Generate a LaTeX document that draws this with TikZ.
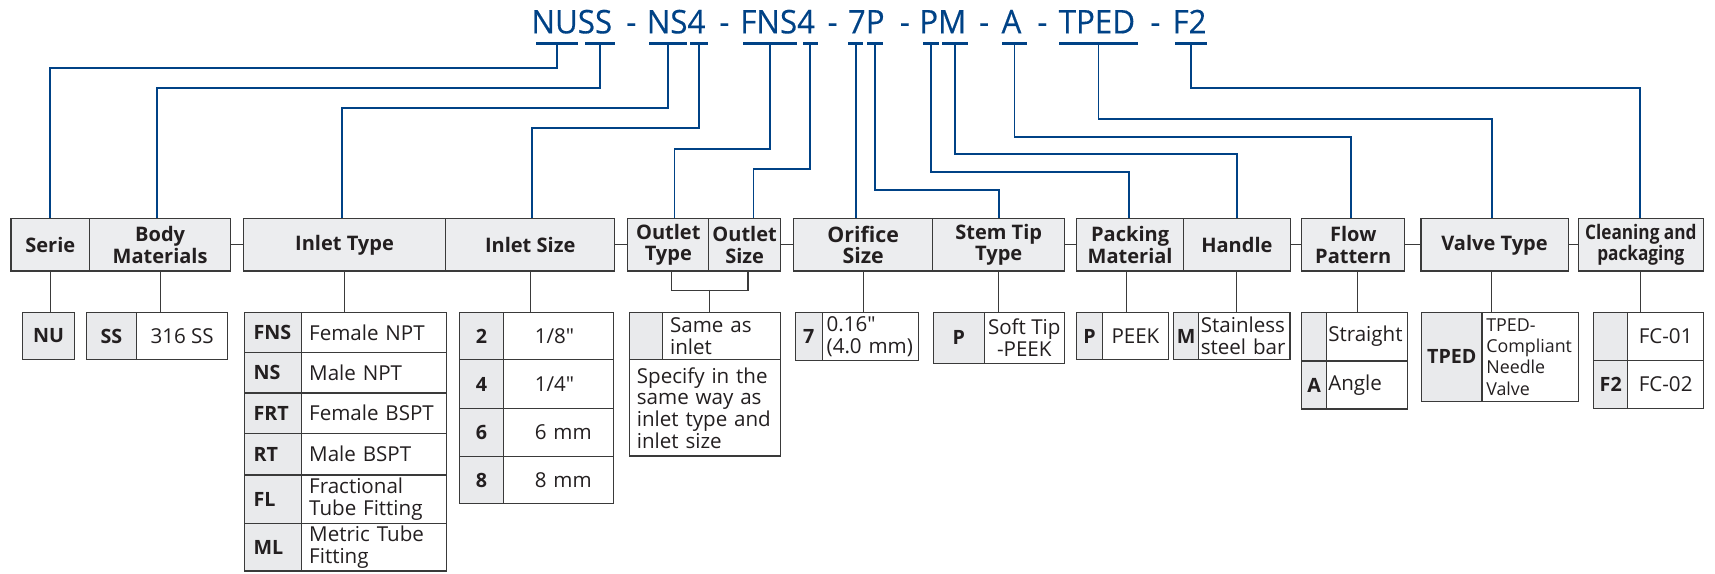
\documentclass[tikz,border=0pt]{standalone}
\usepackage{fontspec}
\setmainfont{Open Sans}
\newfontfamily\titlefont{Open Sans}[FakeStretch=0.96,FakeBold=0.35]
\newfontfamily\condfont{Open Sans}[FakeStretch=0.86]
\newfontfamily\qfont{Open Sans}
\newcommand{\dq}{{\qfont\symbol{34}}}
\definecolor{nblue}{RGB}{0,66,134}
\definecolor{lgray}{RGB}{58,58,58}
\definecolor{hfill}{RGB}{236,237,239}
\definecolor{cfill}{RGB}{233,234,236}
\definecolor{txt}{RGB}{35,31,32}
\begin{document}
\begin{tikzpicture}[x=1pt,y=-1pt,
  bl/.style={draw=nblue, line width=1.7pt},
  gl/.style={draw=lgray, line width=1.1pt},
  bar/.style={fill=nblue, draw=none, minimum height=2.4pt, inner sep=0pt},
  ttl/.style={text=nblue, font=\titlefont\fontsize{29.8}{32}\selectfont, inner sep=0pt, anchor=base west},
  hdr/.style={draw=lgray, line width=1.1pt, fill=hfill, minimum height=47.6pt, inner sep=0pt, align=center, text=txt, font=\bfseries\fontsize{18.3}{19.5}\selectfont},
  codeC/.style={draw=lgray, line width=1.1pt, fill=cfill, inner sep=0pt, align=center, text=txt, font=\bfseries\fontsize{18}{19.5}\selectfont},
  valC/.style={draw=lgray, line width=1.1pt, fill=white, inner sep=0pt, align=center, text=txt, font=\fontsize{18.8}{19.8}\selectfont},
  valL/.style={valC, align=left},
  codeL/.style={codeC, align=left}
]
\useasboundingbox (0,0) rectangle (1568,524);

% ---- title ----
\node[ttl] (tNUSS) at (485.7,30.5) {NUSS};
\node[ttl] (d1) at (572.5,30.5) {-};
\node[ttl] (tNS4) at (591.1,30.5) {NS4};
\node[ttl] (d2) at (657.5,30.5) {-};
\node[ttl] (tFNS4) at (676.6,30.5) {FNS4};
\node[ttl] (d3) at (756.5,30.5) {-};
\node[ttl] (t7P) at (775,30.5) {7P};
\node[ttl] (d4) at (822.5,30.5) {-};
\node[ttl] (tPM) at (840.3,30.5) {PM};
\node[ttl] (d5) at (895,30.5) {-};
\node[ttl] (tA) at (915.5,30.5) {A};
\node[ttl] (d6) at (948.2,30.5) {-};
\node[ttl] (tTPED) at (967.8,30.5) {TPED};
\node[ttl] (d7) at (1051.5,30.5) {-};
\node[ttl] (tF2) at (1071.8,30.5) {F2};

% ---- bars ----
\node[bar, minimum width=38.7pt] (bNU) at (509.35,39.6) {};
\node[bar, minimum width=27.5pt] (bSS) at (548.55,39.6) {};
\node[bar, minimum width=34.2pt] (bNS) at (610.7,39.6) {};
\node[bar, minimum width=16.8pt] (bN4) at (639.2,39.6) {};
\node[bar, minimum width=49.4pt] (bFNS) at (703.7,39.6) {};
\node[bar, minimum width=13.7pt] (bF4) at (740.65,39.6) {};
\node[bar, minimum width=13.7pt] (b7) at (782.45,39.6) {};
\node[bar, minimum width=15.2pt] (bP) at (800,39.6) {};
\node[bar, minimum width=15.3pt] (bPP) at (851.15,39.6) {};
\node[bar, minimum width=24.4pt] (bM) at (873.1,39.6) {};
\node[bar, minimum width=23.5pt] (bA) at (927.55,39.6) {};
\node[bar, minimum width=71.6pt] (bT) at (1004.3,39.6) {};
\node[bar, minimum width=28.9pt] (bF2) at (1088.75,39.6) {};

% ---- header row ----
\node[hdr, minimum width=71.7pt] (serie) at (45.95,223.9) {Serie};
\node[hdr, minimum width=129.2pt] (body) at (146.4,223.9) {Body\\Materials};
\node[hdr, minimum width=185pt] (intype) at (315,223.9) {Inlet Type};
\node[hdr, minimum width=154.5pt] (insize) at (484.75,223.9) {Inlet Size};
\node[hdr, minimum width=74pt] (outtype) at (611,223.9) {Outlet\\Type};
\node[hdr, minimum width=65.6pt] (outsize) at (680.8,223.9) {Outlet\\Size};
\node[hdr, minimum width=126.9pt, font=\bfseries\fontsize{19.5}{20}\selectfont] (orifice) at (789.15,223.9) {Orifice\\Size};
\node[hdr, minimum width=121pt] (stem) at (913.1,223.9) {Stem Tip\\Type};
\node[hdr, minimum width=97.5pt] (packing) at (1033.25,223.9) {Packing\\Material};
\node[hdr, minimum width=97.7pt] (handle) at (1130.85,223.9) {Handle};
\node[hdr, minimum width=94.1pt] (flow) at (1237.25,223.9) {Flow\\Pattern};
\node[hdr, minimum width=134.6pt] (valve) at (1366.4,223.9) {Valve Type};
\node[hdr, minimum width=114.6pt, font=\condfont\bfseries\fontsize{18.3}{19.5}\selectfont] (clean) at (1500.2,223.9) {Cleaning and\\packaging};

% ---- option tables ----
\node[codeC, minimum width=48pt, minimum height=43.5pt] (nu) at (44.3,307.25) {NU};
\node[codeC, minimum width=46pt, minimum height=43.5pt] (ssc) at (101.8,307.25) {SS};
\node[valC, minimum width=83.5pt, minimum height=43.5pt] (ssv) at (166.55,307.25) {316 SS};

\node[codeL, text width=36.1pt, inner xsep=8pt, minimum height=36.9pt] (it1c) at (249.95,303.95) {FNS};
\node[valL, text width=118.8pt, inner xsep=6.7pt, minimum height=36.9pt] (it1v) at (342.1,303.95) {Female NPT};
\node[codeL, text width=36.1pt, inner xsep=8pt, minimum height=36.9pt] (it2c) at (249.95,340.85) {NS};
\node[valL, text width=118.8pt, inner xsep=6.7pt, minimum height=36.9pt] (it2v) at (342.1,340.85) {Male NPT};
\node[codeL, text width=36.1pt, inner xsep=8pt, minimum height=36.8pt] (it3c) at (249.95,377.7) {FRT};
\node[valL, text width=118.8pt, inner xsep=6.7pt, minimum height=36.8pt] (it3v) at (342.1,377.7) {Female BSPT};
\node[codeL, text width=36.1pt, inner xsep=8pt, minimum height=38.1pt] (it4c) at (249.95,415.15) {RT};
\node[valL, text width=118.8pt, inner xsep=6.7pt, minimum height=38.1pt] (it4v) at (342.1,415.15) {Male BSPT};
\node[codeL, text width=36.1pt, inner xsep=8pt, minimum height=44.2pt] (it5c) at (249.95,456.3) {FL};
\node[valL, text width=118.8pt, inner xsep=6.7pt, minimum height=44.2pt] (it5v) at (342.1,456.3) {Fractional\\\mbox{Tube Fitting}};
\node[codeL, text width=36.1pt, inner xsep=8pt, minimum height=43.6pt] (it6c) at (249.95,500.2) {ML};
\node[valL, text width=118.8pt, inner xsep=6.7pt, minimum height=43.6pt] (it6v) at (342.1,500.2) {\mbox{Metric Tube}\\Fitting};

\node[codeC, minimum width=40.6pt, minimum height=43.5pt] (is1c) at (440.3,307.25) {2};
\node[valL, text width=43.6pt, inner xsep=28.4pt, minimum height=43.5pt] (is1v) at (510.8,307.25) {\mbox{1/8\dq}};
\node[codeC, minimum width=40.6pt, minimum height=44.3pt] (is2c) at (440.3,351.15) {4};
\node[valL, text width=43.6pt, inner xsep=28.4pt, minimum height=44.3pt] (is2v) at (510.8,351.15) {\mbox{1/4\dq}};
\node[codeC, minimum width=40.6pt, minimum height=44.2pt] (is3c) at (440.3,395.4) {6};
\node[valL, text width=43.6pt, inner xsep=28.4pt, minimum height=44.2pt] (is3v) at (510.8,395.4) {\mbox{6 mm}};
\node[codeC, minimum width=40.6pt, minimum height=43.2pt] (is4c) at (440.3,439.1) {8};
\node[valL, text width=43.6pt, inner xsep=28.4pt, minimum height=43.2pt] (is4v) at (510.8,439.1) {\mbox{8 mm}};

\node[codeC, minimum width=30.5pt, minimum height=43.5pt] (oc) at (590.45,307.25) {};
\node[valL, text width=93.9pt, inner xsep=7pt, minimum height=43.5pt] (ov) at (659.65,307.25) {Same as\\inlet};
\node[valL, text width=124.2pt, inner xsep=7.1pt, minimum height=87.9pt] (ospec) at (644.4,372.95) {\mbox{Specify in the}\\\mbox{same way as}\\\mbox{inlet type and}\\\mbox{inlet size}};

\node[codeC, minimum width=24.7pt, minimum height=44.2pt] (orc) at (739.45,307.6) {7};
\node[valL, text width=79.9pt, inner xsep=4pt, minimum height=44.2pt] (orv) at (795.75,307.6) {0.16\dq\\\mbox{(4.0 mm)}};

\node[codeC, minimum width=46.7pt, minimum height=46.7pt] (stc) at (876.55,308.85) {P};
\node[valC, minimum width=73.1pt, minimum height=46.7pt] (stv) at (936.45,308.85) {Soft Tip\\-PEEK};

\node[codeC, minimum width=24pt, minimum height=43.5pt] (pc) at (996.1,307.25) {P};
\node[valC, minimum width=60pt, minimum height=43.5pt] (pv) at (1038.1,307.25) {PEEK};

\node[codeC, minimum width=23pt, minimum height=43.5pt] (hc) at (1084.4,307.25) {M};
\node[valL, text width=79.5pt, inner xsep=2pt, minimum height=43.5pt] (hv) at (1137.65,307.25) {Stainless\\\mbox{steel bar}};

\node[codeC, minimum width=23pt, minimum height=44.5pt] (f1c) at (1201.4,307.75) {};
\node[valL, text width=70.7pt, inner xsep=1.5pt, minimum height=44.5pt] (f1v) at (1249.75,307.75) {Straight};
\node[codeC, minimum width=23pt, minimum height=43.9pt] (f2c) at (1201.4,351.95) {A};
\node[valL, text width=70.7pt, inner xsep=1.5pt, minimum height=43.9pt] (f2v) at (1249.75,351.95) {Angle};

\node[codeC, minimum width=55.1pt, minimum height=81.7pt] (vc) at (1327.35,326.35) {TPED};
\node[valL, text width=80.6pt, inner xsep=4pt, minimum height=81.7pt, font=\fontsize{16.3}{19.4}\selectfont] (vv) at (1399.2,326.35) {TPED-\\Compliant\\Needle\\Valve};

\node[codeC, minimum width=31.1pt, minimum height=43.9pt] (c1c) at (1472.65,307.45) {};
\node[valC, minimum width=69.3pt, minimum height=43.9pt] (c1v) at (1522.85,307.45) {FC-01};
\node[codeC, minimum width=31.1pt, minimum height=43.9pt] (c2c) at (1472.65,351.35) {F2};
\node[valC, minimum width=69.3pt, minimum height=43.9pt] (c2v) at (1522.85,351.35) {FC-02};

% ---- blue connectors ----
\draw[bl] (bNU.center) -- ++(0,22.3) -| (serie.north);
\draw[bl] (bSS.center) -- ++(0,41.2) -| ([xshift=-2.5pt]body.north);
\draw[bl] (bNS.center) -- ++(0,59.4) -| ([xshift=-2.6pt]intype.north);
\draw[bl] (bN4.center) -- ++(0,77.7) -| ([xshift=1.65pt]insize.north);
\draw[bl] (bFNS.center) -- ++(0,96.6) -| ([xshift=5.7pt]outtype.north);
\draw[bl] (bF4.center) -- ++(0,115.2) -| ([xshift=8.1pt]outsize.north);
\draw[bl] (b7.center) -- (b7.center |- orifice.north);
\draw[bl] (bP.center) -- ++(0,134.1) -| (stem.north);
\draw[bl] (bPP.center) -- ++(0,118) -| ([xshift=-0.85pt]packing.north);
\draw[bl] (bM.center) -- ++(0,101.5) -| (handle.north);
\draw[bl] (bA.center) -- ++(0,85.4) -| ([xshift=-1.75pt]flow.north);
\draw[bl] (bT.center) -- ++(0,69.2) -| ([xshift=-2.1pt]valve.north);
\draw[bl] (bF2.center) -- ++(0,40.9) -| ([xshift=-0.5pt]clean.north);

% ---- header links ----
\draw[gl] (body.east) -- (intype.west);
\draw[gl] (insize.east) -- (outtype.west);
\draw[gl] (outsize.east) -- (orifice.west);
\draw[gl] (stem.east) -- (packing.west);
\draw[gl] (handle.east) -- (flow.west);
\draw[gl] (flow.east) -- (valve.west);
\draw[gl] (valve.east) -- (clean.west);

% ---- gray drops ----
\draw[gl] (serie.south) -- (serie.south |- nu.north);
\draw[gl] (body.south) -- (body.south |- ssv.north);
\draw[gl] (intype.south) -- (intype.south |- it1v.north);
\draw[gl] (insize.south) -- (insize.south |- is1v.north);
\draw[gl] ([xshift=3pt]outtype.south) -- ++(0,17.1) -| ([xshift=3pt]outsize.south);
\coordinate (om) at (649,265.1);
\draw[gl] (om) -- (om |- ov.north);
\draw[gl] (orifice.south) -- (orifice.south |- orv.north);
\draw[gl] (stem.south) -- (stem.south |- stv.north);
\draw[gl] ([xshift=-3pt]packing.south) -- ([xshift=-3pt]packing.south |- pv.north);
\draw[gl] (handle.south) -- (handle.south |- hv.north);
\draw[gl] ([xshift=3.7pt]flow.south) -- ([xshift=3.7pt]flow.south |- f1v.north);
\draw[gl] ([xshift=-3pt]valve.south) -- ([xshift=-3pt]valve.south |- vv.north);
\draw[gl] (clean.south) -- (clean.south |- c1v.north);
\end{tikzpicture}
\end{document}
